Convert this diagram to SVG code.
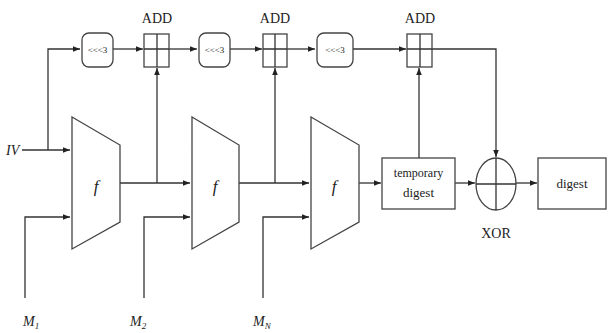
<svg xmlns="http://www.w3.org/2000/svg" width="608" height="333" viewBox="0 0 608 333" font-family="'Liberation Serif', 'DejaVu Serif', serif">
<defs>
<marker id="ah" viewBox="0 0 10 10" refX="10" refY="5" markerWidth="7" markerHeight="7" markerUnits="userSpaceOnUse" orient="auto">
<path d="M0,1 L10,5 L0,9 Z" fill="#222"/>
</marker>
</defs>
<style>
.s{fill:#fff;stroke:#444;stroke-width:1.3}
.c{fill:none;stroke:#333;stroke-width:1.3}
text{font-family:"Liberation Serif","DejaVu Serif",serif;fill:#222}
.r{font-size:9px}
.a{font-size:14px}
.i{font-style:italic}
</style>
<rect width="608" height="333" fill="#fff"/>
<g id="connectors">
<path class="c" d="M22,150 L70,150" marker-end="url(#ah)"/>
<path class="c" d="M48,150 L48,49 L80,49" marker-end="url(#ah)"/>
<path class="c" d="M113,49 L143,49" marker-end="url(#ah)"/>
<path class="c" d="M169,49 L197,49" marker-end="url(#ah)"/>
<path class="c" d="M230,49 L262,49" marker-end="url(#ah)"/>
<path class="c" d="M287,49 L315,49" marker-end="url(#ah)"/>
<path class="c" d="M353,49 L406,49" marker-end="url(#ah)"/>
<path class="c" d="M432,49 L496,49 L496,157" marker-end="url(#ah)"/>
<path class="c" d="M120,183 L190,183" marker-end="url(#ah)"/>
<path class="c" d="M157,183 L157,68" marker-end="url(#ah)"/>
<path class="c" d="M239,183 L309,183" marker-end="url(#ah)"/>
<path class="c" d="M275,183 L275,68" marker-end="url(#ah)"/>
<path class="c" d="M359,183 L381,183" marker-end="url(#ah)"/>
<path class="c" d="M419,158 L419,68" marker-end="url(#ah)"/>
<path class="c" d="M455,183 L475,183" marker-end="url(#ah)"/>
<path class="c" d="M516,183 L537,183" marker-end="url(#ah)"/>
<path class="c" d="M25,298 L25,217 L70,217" marker-end="url(#ah)"/>
<path class="c" d="M144,298 L144,217 L190,217" marker-end="url(#ah)"/>
<path class="c" d="M263,298 L263,217 L309,217" marker-end="url(#ah)"/>
</g>
<g id="iv"><text class="i a" x="6" y="155">IV</text></g>
<g id="rot1"><rect class="s" x="82" y="33" width="31" height="34" rx="7"/><text class="r" x="97.5" y="53" text-anchor="middle">&lt;&lt;&lt;3</text></g>
<g id="add1"><rect class="s" x="144" y="34" width="25" height="33"/><path class="c" d="M157,34 V67 M144,49 H169"/><text class="a" x="157" y="23" text-anchor="middle">ADD</text></g>
<g id="rot2"><rect class="s" x="199" y="33" width="31" height="34" rx="7"/><text class="r" x="214.5" y="53" text-anchor="middle">&lt;&lt;&lt;3</text></g>
<g id="add2"><rect class="s" x="263" y="34" width="24" height="33"/><path class="c" d="M275,34 V67 M263,49 H287"/><text class="a" x="275" y="23" text-anchor="middle">ADD</text></g>
<g id="rot3"><rect class="s" x="317" y="33" width="36" height="34" rx="7"/><text class="r" x="335" y="53" text-anchor="middle">&lt;&lt;&lt;3</text></g>
<g id="add3"><rect class="s" x="407" y="34" width="25" height="33"/><path class="c" d="M420,34 V67 M407,49 H432"/><text class="a" x="420" y="23" text-anchor="middle">ADD</text></g>
<g id="f1"><path class="s" d="M72,117 L120,145 L120,222 L72,249 Z"/><text class="i" font-size="17" x="96" y="192" text-anchor="middle">f</text></g>
<g id="f2"><path class="s" d="M192,117 L239,145 L239,222 L192,249 Z"/><text class="i" font-size="17" x="215" y="192" text-anchor="middle">f</text></g>
<g id="f3"><path class="s" d="M311,117 L359,145 L359,222 L311,249 Z"/><text class="i" font-size="17" x="334" y="192" text-anchor="middle">f</text></g>
<g id="temp"><rect class="s" x="382" y="158" width="73" height="51"/><text font-size="12" x="418.5" y="177" text-anchor="middle">temporary</text><text font-size="13" x="418.5" y="197" text-anchor="middle">digest</text></g>
<g id="xor"><ellipse class="s" cx="496" cy="184" rx="20" ry="26"/><path class="c" d="M476,184 H516 M496,158 V210"/><text class="a" x="496" y="238" text-anchor="middle">XOR</text></g>
<g id="digest"><rect class="s" x="538" y="158" width="68" height="51"/><text font-size="13" x="572" y="188" text-anchor="middle">digest</text></g>
<g id="m1"><text class="i a" x="23" y="326">M<tspan font-size="9" dy="3">1</tspan></text></g>
<g id="m2"><text class="i a" x="130" y="326">M<tspan font-size="9" dy="3">2</tspan></text></g>
<g id="mn"><text class="i a" x="253" y="326">M<tspan font-size="9" dy="3">N</tspan></text></g>
</svg>
